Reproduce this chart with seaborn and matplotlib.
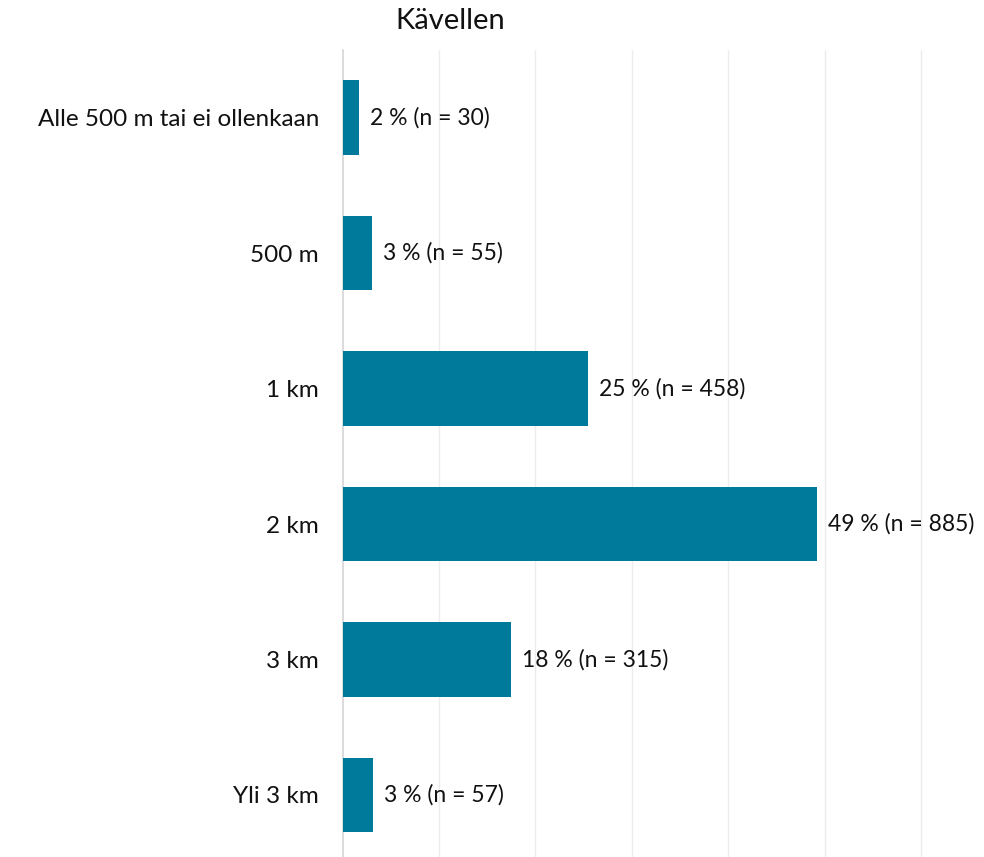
import matplotlib
matplotlib.use("Agg")
import matplotlib.pyplot as plt
import seaborn as sns
import pandas as pd

categories = ["Alle 500 m tai ei ollenkaan", "500 m", "1 km", "2 km", "3 km", "Yli 3 km"]
counts = [30, 55, 458, 885, 315, 57]
percents = [1.67, 3.06, 25.4, 49.2, 17.5, 3.2]
pct_labels = ["2 %", "3 %", "25 %", "49 %", "18 %", "3 %"]
title = "Kävellen"

sns.set_theme(style="white")
plt.rcParams['font.family'] = ['Lato', 'DejaVu Sans']

df = pd.DataFrame({"cat": categories, "pct": percents})

W, H = 984, 857
fig = plt.figure(figsize=(W / 100, H / 100), dpi=100)
left, right = 342.5, 984
top, bottom = 50, 862.7
ax = fig.add_axes([left / W, 1 - bottom / H, (right - left) / W, (bottom - top) / H])

sns.barplot(data=df, y="cat", x="pct", orient="h", color="#007A9B", width=0.55,
            saturation=1, linewidth=0, ax=ax, zorder=3)
ax.set_xlim(0, 66.5)
ax.set_ylim(5.5, -0.5)
ax.set_xticks([10, 20, 30, 40, 50, 60])
ax.xaxis.grid(True, color="#ECECEC", linewidth=1)
ax.set_axisbelow(True)
ax.tick_params(axis="x", labelbottom=False, length=0)
ax.tick_params(axis="y", length=0, pad=17, labelsize=17.5, labelcolor="#111111")
for s in ["top", "right", "bottom"]:
    ax.spines[s].set_visible(False)
ax.spines["left"].set_color("#D5D5D5")
ax.spines["left"].set_linewidth(1.2)
ax.set_xlabel("")
ax.set_ylabel("")

for i, (p, lab, n) in enumerate(zip(percents, pct_labels, counts)):
    ax.annotate(f"{lab} (n = {n})", xy=(p, i), xytext=(8, 0), textcoords="offset points",
                ha="left", va="center", fontsize=16.5, color="#111111")

fig.text(450 / W, 1 - 21 / H, title, ha="center", va="center", fontsize=21, color="#111111")

fig.savefig("out.png", dpi=100)
